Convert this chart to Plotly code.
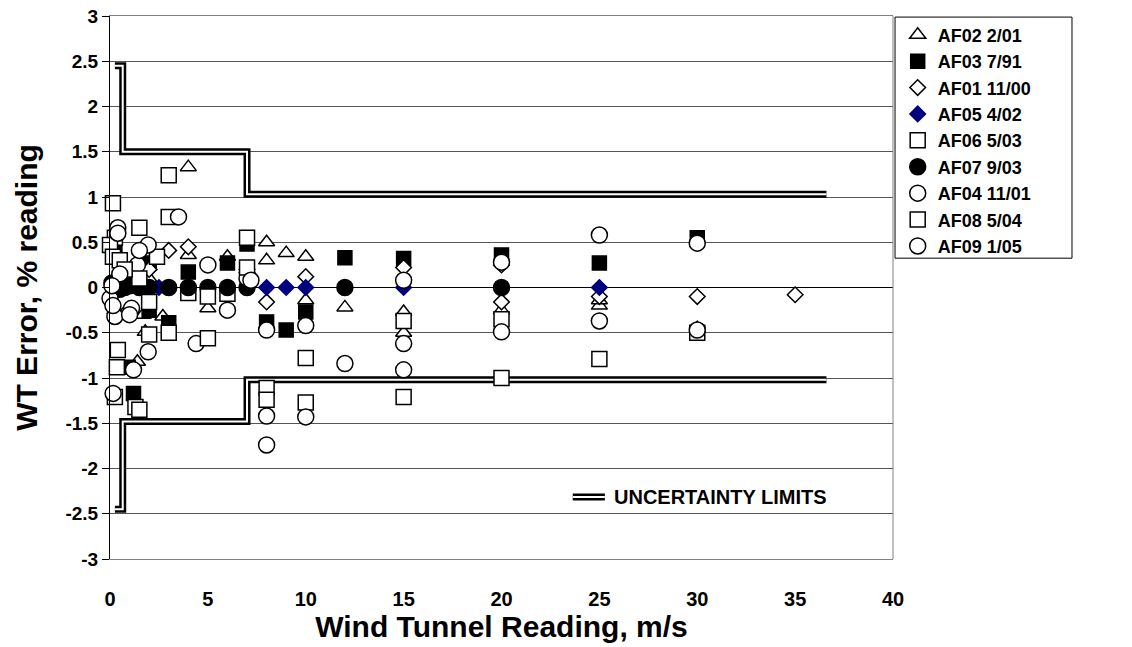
import plotly.graph_objects as go

# wind tunnel calibration checks, WT error (% reading) vs tunnel speed
af02_x = [0.25, 0.5, 0.77, 1.4, 1.7, 1.8, 2.7, 2, 4, 4, 5, 6, 7, 8, 8, 9, 10, 10, 12, 15, 15, 20, 25, 25, 30]
af02_y = [-0.25, -0.3, -0.27, -0.82, -0.3, -0.49, -0.32, 0.1, 1.33, 0.36, -0.23, 0.34, 0.2, 0.5, 0.3, 0.38, 0.34, -0.14, -0.22, -0.27, -0.5, -0.25, -0.2, -0.14, -0.45]

af03_x = [0.25, 0.5, 0.93, 1.2, 1.5, 2, 2, 3, 4, 5, 6, 7, 8, 9, 10, 12, 15, 20, 25, 30]
af03_y = [0.47, 0.05, -0.88, -1.17, 0.1, 0.27, -0.25, -0.39, 0.17, -0.09, 0.27, 0.48, -0.38, -0.47, -0.27, 0.33, 0.32, 0.36, 0.27, 0.55]

af01_x = [1, 2, 3, 4, 7, 8, 10, 15, 20, 20, 25, 30, 35]
af01_y = [0.1, 0.2, 0.41, 0.45, 0.2, -0.16, 0.12, 0.22, -0.16, 0.25, -0.1, -0.1, -0.08]

af05_x = [2.5, 8, 9, 10, 15, 25]
af05_y = [0, 0, 0, 0, 0, 0]

af06_x = [0.15, 3, 3, 1.5, 0.25, 0, 0.15, 2.4, 7, 4, 6, 3, 2, 0.4, 0.25, 1.3, 8, 10, 15, 20, 25]
af06_y = [0.93, 1.24, 0.78, 0.66, 0.55, 0.47, 0.34, 0.34, 0.55, -0.06, -0.07, -0.5, -0.52, -0.69, -1.21, -1.32, -1.11, -0.78, -1.21, -1.0, -0.79]

af07_x = [0.1, 0.25, 0.5, 0.75, 1, 1.5, 2, 3, 4, 5, 6, 7, 12, 20]
af07_y = [0.05, 0, -0.02, 0, 0.02, 0, 0, 0, 0, 0, 0, 0, 0, 0]

af04_x = [0.4, 3.5, 1.95, 1.4, 5, 7, 4.4, 1.95, 0.16, 8, 8, 10, 12, 15, 20, 25, 30, 0, 0.25]
af04_y = [0.66, 0.78, 0.47, 0.25, 0.25, 0.1, -0.62, -0.71, -1.17, -0.47, -1.42, -0.42, -0.84, -0.62, 0.28, 0.58, 0.49, -0.12, -0.32]

af08_x = [0.35, 1.5, 8, 10, 5, 5, 2, 7, 15, 20, 30, 0.5, 1.5, 0.75]
af08_y = [-0.88, -1.35, -1.24, -1.27, -0.1, -0.56, -0.16, 0.22, -0.37, -0.35, -0.5, 0.3, 0.1, 0.2]

af09_x = [0.4, 1.5, 7.2, 6, 1.2, 0.15, 1.1, 8, 10, 15, 15, 20, 25, 30, 0.5, 1, 0.1]
af09_y = [0.6, 0.41, 0.08, -0.25, -0.91, -0.2, -0.23, -1.74, -1.43, 0.08, -0.91, -0.49, -0.37, -0.47, 0.15, -0.3, 0.02]

# uncertainty limit steps
lim_x = [0.25, 0.65, 0.65, 7, 7, 36.6]
lim_hi = [2.45, 2.45, 1.5, 1.5, 1.03, 1.03]
lim_lo = [-2.45, -2.45, -1.48, -1.48, -1.02, -1.02]

x_ticks = [0, 5, 10, 15, 20, 25, 30, 35, 40]
y_ticks = [-3, -2.5, -2, -1.5, -1, -0.5, 0, 0.5, 1, 1.5, 2, 2.5, 3]
y_ticktext = ["-3", "-2.5", "-2", "-1.5", "-1", "-0.5", "0", "0.5", "1", "1.5", "2", "2.5", "3"]

FONT = "Liberation Sans, Arial, sans-serif"

fig = go.Figure()

for ys in (lim_hi, lim_lo):
    fig.add_trace(go.Scatter(x=lim_x, y=ys, mode="lines", showlegend=False,
                             line=dict(color="black", width=7), hoverinfo="skip"))
    fig.add_trace(go.Scatter(x=lim_x, y=ys, mode="lines", showlegend=False,
                             line=dict(color="white", width=2), hoverinfo="skip"))

series = [
    ("AF02 2/01", af02_x, af02_y, "triangle-up", 14, "white"),
    ("AF03 7/91", af03_x, af03_y, "square", 14, "black"),
    ("AF01 11/00", af01_x, af01_y, "diamond", 12, "white"),
    ("AF05 4/02", af05_x, af05_y, "diamond", 12, "#000080"),
    ("AF06 5/03", af06_x, af06_y, "square", 15, "white"),
    ("AF07 9/03", af07_x, af07_y, "circle", 16, "black"),
    ("AF04 11/01", af04_x, af04_y, "circle", 16, "white"),
    ("AF08 5/04", af08_x, af08_y, "square", 15, "white"),
    ("AF09 1/05", af09_x, af09_y, "circle", 16, "white"),
]

for name, xs, ys, sym, size, fill in series:
    edge = fill if fill != "white" else "black"
    fig.add_trace(go.Scatter(
        x=xs, y=ys, mode="markers", name=name, cliponaxis=False,
        marker=dict(symbol=sym, size=size, color=fill,
                    line=dict(color=edge, width=1.5)),
    ))

fig.update_layout(
    width=1132, height=647,
    margin=dict(l=110, r=239, t=16, b=88),
    paper_bgcolor="white", plot_bgcolor="white",
    font=dict(family=FONT, color="black"),
    xaxis=dict(
        range=[0, 40], tickvals=x_ticks, showgrid=False, zeroline=False,
        showline=True, mirror=True, linecolor="#808080", linewidth=1,
        ticks="", ticklabelstandoff=22, automargin=False,
        tickfont=dict(family=FONT, size=20, weight="bold"),
        title=dict(text="Wind Tunnel Reading, m/s", standoff=6,
                   font=dict(family=FONT, size=30, weight="bold")),
    ),
    yaxis=dict(
        range=[-3, 3], tickvals=y_ticks, ticktext=y_ticktext, automargin=False,
        showgrid=True, gridcolor="#555555", gridwidth=1,
        zeroline=True, zerolinecolor="black", zerolinewidth=1,
        showline=True, linecolor="black", linewidth=1,
        ticks="outside", ticklen=7, tickcolor="black",
        tickfont=dict(family=FONT, size=19, weight="bold"),
        title=dict(text="WT Error, % reading", standoff=18,
                   font=dict(family=FONT, size=30, weight="bold")),
    ),
    legend=dict(
        x=1.006, xanchor="left", y=0.999, yanchor="top",
        bgcolor="rgba(0,0,0,0)", borderwidth=0, itemwidth=30,
        font=dict(family=FONT, size=18, weight="bold"),
        tracegroupgap=0,
    ),
    shapes=[
        dict(type="line", xref="paper", yref="paper", x0=1, x1=1, y0=0, y1=1,
             line=dict(color="#808080", width=1)),
        dict(type="rect", xref="paper", yref="paper", x0=1.0026, x1=1.2286,
             y0=0.554, y1=0.998, line=dict(color="black", width=1)),
        dict(type="line", xref="paper", yref="paper", x0=0.591, x1=0.632,
             y0=0.114, y1=0.114, line=dict(color="black", width=7)),
        dict(type="line", xref="paper", yref="paper", x0=0.591, x1=0.632,
             y0=0.114, y1=0.114, line=dict(color="white", width=2)),
    ],
    annotations=[
        dict(text="UNCERTAINTY LIMITS", xref="paper", yref="paper",
             x=0.641, y=0.114, xanchor="left", yanchor="middle", showarrow=False,
             font=dict(family=FONT, size=20, weight="bold", color="black")),
    ],
)

fig.write_html("out.html", config={"displayModeBar": False},
               post_script="document.body.style.margin='0';")
